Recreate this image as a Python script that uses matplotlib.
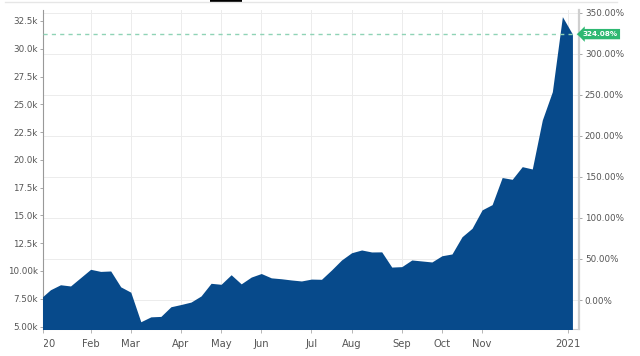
import matplotlib
matplotlib.use("Agg")
import matplotlib.pyplot as plt
import matplotlib.dates as mdates
import numpy as np
import pandas as pd
from matplotlib.lines import Line2D
from matplotlib.patches import Rectangle

# ---------------- data ----------------
dates = pd.date_range("2019-12-30", periods=54, freq="7D")
values = [7520, 8310, 8760, 8650, 9400, 10150, 9960, 10000, 8570, 8090,
          5430, 5870, 5910, 6780, 6980, 7200, 7750, 8890, 8800, 9660,
          8840, 9450, 9770, 9380, 9300, 9190, 9100, 9270, 9250, 10090,
          10990, 11640, 11890, 11710, 11720, 10350, 10390, 10990, 10900, 10810,
          11370, 11530, 13080, 13840, 15500, 15970, 18410, 18250, 19390, 19180,
          23590, 26140, 32890, 31320]
last_pct = 324.08
left_ticks = [5000, 7500, 10000, 12500, 15000, 17500, 20000, 22500, 25000, 27500, 30000, 32500]
left_labels = ["5.00k", "7.50k", "10.00k", "12.5k", "15.0k", "17.5k", "20.0k",
               "22.5k", "25.0k", "27.5k", "30.0k", "32.5k"]
pct_ticks = [0, 50, 100, 150, 200, 250, 300, 350]
pct_labels = ["0.00%", "50.00%", "100.00%", "150.00%", "200.00%", "250.00%", "300.00%", "350.00%"]
x_tick_dates = ["2020-01-01", "2020-02-03", "2020-03-02", "2020-04-06", "2020-05-04",
                "2020-06-01", "2020-07-06", "2020-08-03", "2020-09-07", "2020-10-05",
                "2020-11-02", "2021-01-01"]
x_tick_labels = ["2020", "Feb", "Mar", "Apr", "May", "Jun", "Jul", "Aug", "Sep", "Oct", "Nov", "2021"]

base = values[-1] / (1 + last_pct / 100)

# ---------------- figure ----------------
W, H = 640, 356
fig = plt.figure(figsize=(W / 100, H / 100), dpi=100)
L, R, T, B = 43.3, 579.3, 10, 329.3
ax = fig.add_axes([L / W, 1 - B / H, (R - L) / W, (B - T) / H])

ymin, ymax = 4750, 33490
x0 = pd.Timestamp("2020-01-02 07:00")
x1 = pd.Timestamp("2021-01-08 19:00")
ax.set_xlim(x0, x1)
ax.set_ylim(ymin, ymax)

fill_color = "#074a8b"
ax.fill_between(dates, values, ymin - 1000, color=fill_color, lw=0, zorder=3)

# horizontal gridlines from percent axis
grid_c = "#ececec"
for p in pct_ticks:
    ax.axhline(base * (1 + p / 100), color=grid_c, lw=0.7, zorder=1)
xt = pd.to_datetime(x_tick_dates)
for d in xt:
    ax.axvline(d, color=grid_c, lw=0.7, zorder=1)

# last value dashed line
ax.axhline(values[-1], color="#8fd3b6", lw=1.0, ls=(0, (3, 3)), zorder=4)

# left axis
ax.set_yticks(left_ticks)
ax.set_yticklabels(left_labels)
ax.set_xticks(xt)
ax.set_xticklabels(x_tick_labels)
tc = "#555555"
ax.tick_params(axis="y", direction="out", length=2.5, width=0.6, color="#999999",
               labelsize=6.3, labelcolor=tc, pad=1.5)
ax.tick_params(axis="x", direction="out", length=3, width=0.6, color="#aaaaaa",
               labelsize=7.2, labelcolor=tc, pad=4)
ax.spines["top"].set_visible(False)
ax.spines["left"].set_color("#999999")
ax.spines["left"].set_linewidth(0.8)
ax.spines["bottom"].set_color("#cccccc")
ax.spines["bottom"].set_linewidth(0.8)
ax.spines["right"].set_visible(False)

# right percent axis
ax2 = ax.twinx()
ax2.set_ylim((ymin / base - 1) * 100, (ymax / base - 1) * 100)
ax2.set_yticks(pct_ticks)
ax2.set_yticklabels(pct_labels)
ax2.tick_params(axis="y", direction="out", length=2.5, width=0.6, color="#999999",
                labelsize=6.3, labelcolor=tc, pad=1.5)
for s in ["top", "left", "bottom"]:
    ax2.spines[s].set_visible(False)
ax2.spines["right"].set_color("#cfcfcf")
ax2.spines["right"].set_linewidth(1.6)

# clip left half of "2020" label like reference
for lab in ax.get_xticklabels():
    if lab.get_text() == "2020":
        lab.set_clip_on(True)
        lab.set_clip_box(matplotlib.transforms.Bbox.from_extents(44, 0, W, H))

# green value label
ax2.annotate(f"{last_pct:.2f}%", xy=(1.0, last_pct), xycoords=("axes fraction", "data"),
             xytext=(2.5, 0), textcoords="offset points", ha="left", va="center",
             fontsize=5.2, color="white", fontweight="bold",
             bbox=dict(boxstyle="larrow,pad=0.3", fc="#2eb872", ec="none"),
             annotation_clip=False, zorder=10)

# top decoration
fig.add_artist(Line2D([5 / W, 617 / W], [1 - 2 / H, 1 - 2 / H], color="#e6e6e6", lw=1))
fig.add_artist(Rectangle((210 / W, 1 - 2.5 / H), 32 / W, 2.5 / H, color="black", lw=0))

fig.savefig("out.png", dpi=100)
